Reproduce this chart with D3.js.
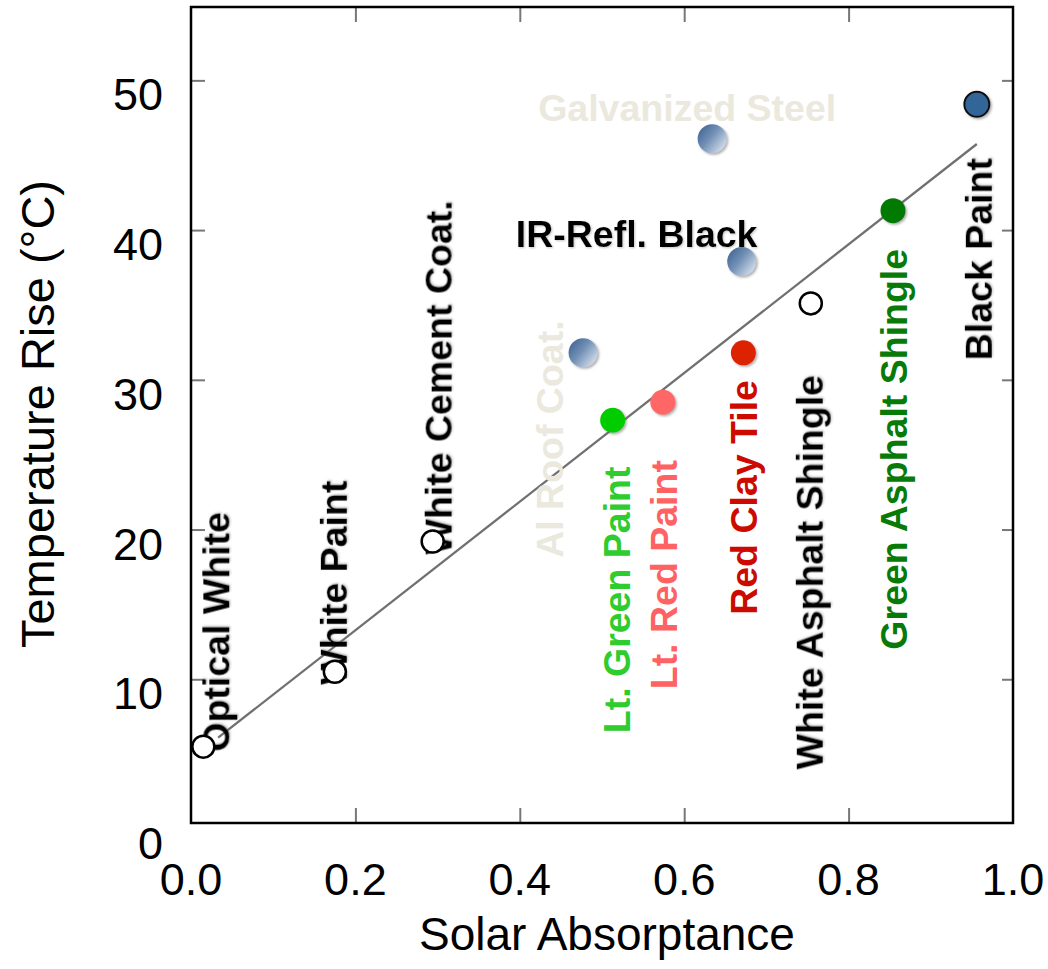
<!DOCTYPE html>
<meta charset="utf-8">
<script src="https://d3js.org/d3.v7.min.js"></script>
<style>
  body { margin: 0; background: #fff; }
  text { font-family: "Liberation Sans", Arial, Helvetica, sans-serif; }
</style>
<body>
<div id="chart"></div>
<script>

// roofing materials: solar absorptance vs temperature rise
var materials = ["Optical White", "White Paint", "White Cement Coat.", "Al Roof Coat.",
                 "Lt. Green Paint", "Lt. Red Paint", "Galvanized Steel", "IR-Refl. Black",
                 "Red Clay Tile", "White Asphalt Shingle", "Green Asphalt Shingle", "Black Paint"];
var absorptance = [0.015, 0.175, 0.294, 0.477, 0.513, 0.574, 0.634, 0.670, 0.672, 0.754, 0.854, 0.956];
var tempRise    = [5.5, 10.5, 19.2, 31.8, 27.3, 28.5, 46.1, 37.9, 31.8, 35.1, 41.3, 48.4];

// fitted trend line end points
var fitX = [0.033, 0.956];
var fitY = [6.1, 45.75];

var xTicks = [0.0, 0.2, 0.4, 0.6, 0.8, 1.0];
var yTicks = [0, 10, 20, 30, 40, 50];

// marker look per material: open, solid or shaded
var markerKind  = ["open", "open", "open", "shade", "solid", "solid", "shade", "shade", "solid", "open", "solid", "solid"];
var markerColor = ["#fff", "#fff", "#fff", null, "#00cc00", "#ff6666", null, null, "#dd2200", "#fff", "#007a00", "#336699"];
var labelColor  = ["#000", "#000", "#000", "#ebe8de", "#2fcc2f", "#ff6262", "#ebe8de", "#000", "#cc0a00", "#000", "#087a08", "#000"];
// label placement relative to the marker (rotated labels read bottom to top)
var labelRot = [true, true, true, true, true, true, false, false, true, true, true, true];
var labelDx  = [26, 12, 19, -20, 17, 14, -174, -226, 14, 12, 14, 15];
var labelDy  = [5, 13, 13, 205, 313, 287, -18, -15, 262, 466, 439, 256];

var data = materials.map(function (m, i) {
  return {name: m, x: absorptance[i], y: tempRise[i]};
});

var margin = {top: 7, left: 191},
    width = 822,
    height = 816;

var svg = d3.select("#chart")
  .append("svg")
    .attr("width", 1048)
    .attr("height", 969);

var defs = svg.append("defs");
var grad = defs.append("linearGradient")
    .attr("id", "shade")
    .attr("x1", "0").attr("y1", "0.1").attr("x2", "1").attr("y2", "0.9");
grad.append("stop").attr("offset", "0").attr("stop-color", "#3c6190");
grad.append("stop").attr("offset", "0.45").attr("stop-color", "#7391b6");
grad.append("stop").attr("offset", "1").attr("stop-color", "#e4eaf2");

var shadow = defs.append("filter").attr("id", "shadow")
    .attr("x", "-30%").attr("y", "-30%").attr("width", "160%").attr("height", "160%");
shadow.append("feDropShadow")
    .attr("dx", 1.5).attr("dy", 1.5).attr("stdDeviation", 1.2)
    .attr("flood-color", "#666").attr("flood-opacity", 0.55);

var glow = defs.append("filter").attr("id", "glow")
    .attr("x", "-10%").attr("y", "-10%").attr("width", "120%").attr("height", "120%");
glow.append("feDropShadow")
    .attr("dx", 1).attr("dy", 1).attr("stdDeviation", 1.3)
    .attr("flood-color", "#888").attr("flood-opacity", 0.5);

var g = svg.append("g")
    .attr("transform", "translate(" + margin.left + "," + margin.top + ")");

var x = d3.scaleLinear().domain([0, 1]).range([0, width]);
var y = d3.scaleLinear().domain([0.4, 54.9]).range([height, 0]);

// inner ticks, all four sides
var tickColor = "#777";
var innerX = xTicks.slice(1, -1), innerY = yTicks.slice(1);
function styleTicks(a) {
  a.select(".domain").remove();
  a.selectAll("line").attr("stroke", tickColor).attr("stroke-width", 2);
}
g.append("g")
    .attr("transform", "translate(0," + height + ")")
    .call(d3.axisBottom(x).tickValues(innerX).tickSize(-15).tickFormat(""))
    .call(styleTicks);
g.append("g")
    .call(d3.axisTop(x).tickValues(innerX).tickSize(-15).tickFormat(""))
    .call(styleTicks);
g.append("g")
    .call(d3.axisLeft(y).tickValues(innerY).tickSize(-14).tickFormat(""))
    .call(styleTicks);
g.append("g")
    .attr("transform", "translate(" + width + ",0)")
    .call(d3.axisRight(y).tickValues(innerY).tickSize(-11).tickFormat(""))
    .call(styleTicks);

// frame
g.append("rect")
    .attr("x", 0).attr("y", 0)
    .attr("width", width).attr("height", height)
    .attr("fill", "none")
    .attr("stroke", "#000")
    .attr("stroke-width", 2.5);

// tick labels
g.selectAll(".xlab")
  .data(xTicks)
  .enter().append("text")
    .attr("x", function (d) { return x(d); })
    .attr("y", height + 72)
    .attr("text-anchor", "middle")
    .attr("font-size", 45)
    .text(function (d) { return d3.format(".1f")(d); });

g.selectAll(".ylab")
  .data(yTicks)
  .enter().append("text")
    .attr("x", -28)
    .attr("y", function (d) { return y(d) + 30; })
    .attr("text-anchor", "end")
    .attr("font-size", 45)
    .text(function (d) { return d; });

// axis titles
svg.append("text")
    .attr("x", 607)
    .attr("y", 950)
    .attr("text-anchor", "middle")
    .attr("font-size", 46)
    .text("Solar Absorptance");

svg.append("text")
    .attr("transform", "translate(54,414) rotate(-90)")
    .attr("text-anchor", "middle")
    .attr("font-size", 47)
    .text("Temperature Rise (\u00B0C)");

// trend line
g.append("line")
    .attr("x1", x(fitX[0])).attr("y1", y(fitY[0]))
    .attr("x2", x(fitX[1])).attr("y2", y(fitY[1]))
    .attr("stroke", "#707070")
    .attr("stroke-width", 2.3);

// labels
g.selectAll(".lab")
  .data(data)
  .enter().append("text")
    .attr("transform", function (d, i) {
      var px = x(d.x) + labelDx[i], py = y(d.y) + labelDy[i];
      return "translate(" + px + "," + py + ")" + (labelRot[i] ? " rotate(-90)" : "");
    })
    .attr("font-size", 37.5)
    .attr("font-weight", "bold")
    .attr("fill", function (d, i) { return labelColor[i]; })
    .attr("filter", function (d, i) { return labelColor[i] === "#000" ? "url(#glow)" : null; })
    .text(function (d) { return d.name; });

// markers
g.selectAll(".dot")
  .data(data)
  .enter().append("circle")
    .attr("cx", function (d) { return x(d.x); })
    .attr("cy", function (d) { return y(d.y); })
    .attr("r", function (d, i) { return markerKind[i] === "shade" ? 14.5 : (markerKind[i] === "open" ? 11 : 12.5); })
    .attr("fill", function (d, i) { return markerKind[i] === "shade" ? "url(#shade)" : markerColor[i]; })
    .attr("stroke", function (d, i) {
      if (markerKind[i] === "open") return "#000";
      if (d.name === "Black Paint") return "#111";
      return "none";
    })
    .attr("stroke-width", function (d, i) { return markerKind[i] === "open" ? 2.5 : 2; })
    .attr("filter", function (d, i) { return markerKind[i] === "open" ? null : "url(#shadow)"; });

</script>
</body>
